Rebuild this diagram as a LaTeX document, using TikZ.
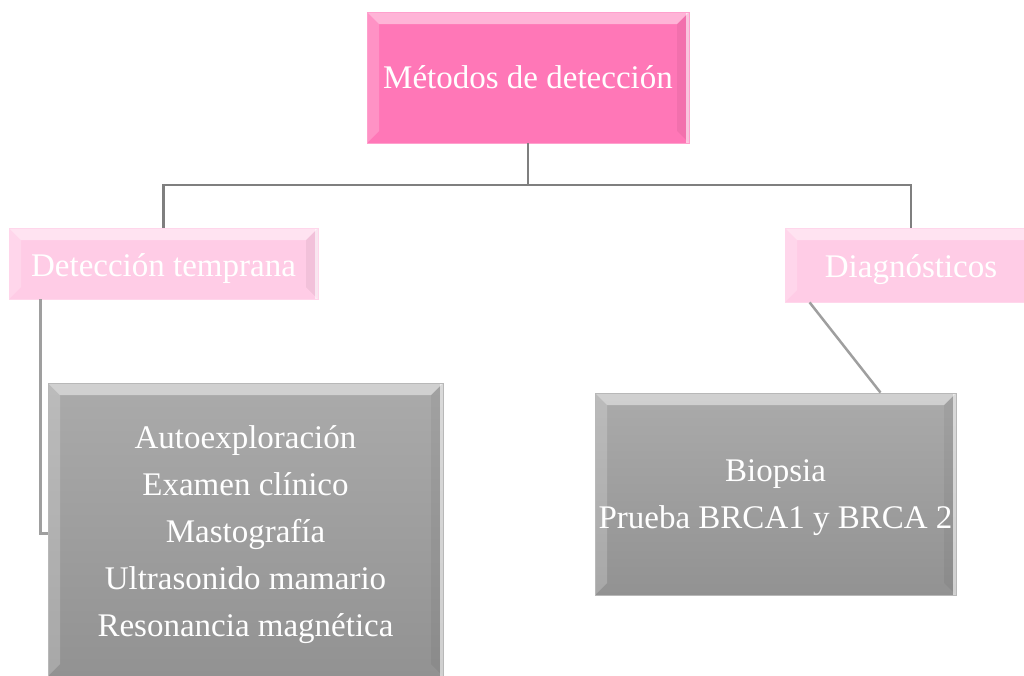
\documentclass[tikz,border=0pt]{standalone}
\usepackage{fontspec}
\setmainfont{Liberation Serif}
\usetikzlibrary{positioning}

\definecolor{rosaFuerte}{HTML}{FF77B7}
\definecolor{rosaClaro}{HTML}{FFCCE6}
\definecolor{grisCaja}{HTML}{A6A6A6}
\definecolor{grisLinea}{HTML}{7F7F7F}

\tikzset{
    bisel/.style={path picture={
        \path (path picture bounding box.north west) coordinate (nw)
              (path picture bounding box.north east) coordinate (ne)
              (path picture bounding box.south west) coordinate (sw)
              (path picture bounding box.south east) coordinate (se);
        \fill[white, opacity=0.45] (nw) -- (ne) -- ([xshift=-12pt,yshift=-12pt]ne) -- ([xshift=12pt,yshift=-12pt]nw) -- cycle;
        \fill[white, opacity=0.20] (nw) -- (sw) -- ([xshift=12pt,yshift=12pt]sw) -- ([xshift=12pt,yshift=-12pt]nw) -- cycle;
        \fill[black, opacity=0.05] (ne) -- (se) -- ([xshift=-12pt,yshift=12pt]se) -- ([xshift=-12pt,yshift=-12pt]ne) -- cycle;
        \fill[white, opacity=0.60] ([xshift=-3pt]ne) rectangle (se);
    }},
    caja/.style={rectangle, bisel, inner sep=0pt, align=center, text=white,
        font=\fontsize{33}{47}\selectfont},
    bajar/.style={execute at begin node={\rule{0pt}{#1}}},
    cajaRosa/.style={caja, fill=rosaFuerte, draw=rosaFuerte!70!white, line width=0.8pt},
    cajaClara/.style={caja, bajar=33pt, fill=rosaClaro, draw=rosaClaro!80!white, line width=0.8pt},
    cajaGris/.style={caja, top color=grisCaja!95!white, bottom color=grisCaja!88!black,
        draw=grisCaja!80!white, line width=0.8pt},
    liga/.style={draw=grisLinea, line width=2.5pt},
    ligaSuave/.style={draw=grisLinea!75!white, line width=2.5pt}
}

\begin{document}
\begin{tikzpicture}[x=1pt, y=-1pt]
    \useasboundingbox[fill=white] (0,0) rectangle (1024,675);

    % Nodo principal
    \node[cajaRosa, minimum width=322pt, minimum height=131pt] (metodos) at (528,77.5) {Métodos de detección};

    % Segundo nivel
    \node[cajaClara, minimum width=309pt, minimum height=71pt] (temprana) at (163.5,263.5) {Detección temprana};
    \node[cajaClara, minimum width=252pt, minimum height=74pt] (diagnos) at (911,265) {Diagnósticos};

    % Tercer nivel
    \node[cajaGris, minimum width=395pt, minimum height=293pt] (estudios) at (245.5,529.5)
        {\rule{0pt}{33pt}Autoexploración\\Examen clínico\\Mastografía\\Ultrasonido mamario\\Resonancia magnética};
    \node[cajaGris, minimum width=361pt, minimum height=202pt] (pruebas) at (775.5,494)
        {\rule{0pt}{30pt}Biopsia\\Prueba BRCA1 y BRCA 2};

    % Conectores
    \coordinate (ramal) at (528,185);
    \draw[liga] (metodos.south) -- (ramal);
    \draw[liga] (ramal) -| (temprana.north);
    \draw[liga] (ramal) -| (diagnos.north);
    \draw[ligaSuave] ([xshift=32pt]temprana.south west) |- ([yshift=-4pt]estudios.west);
    \draw[ligaSuave] ([xshift=25pt]diagnos.south west) -- ([xshift=105pt]pruebas.north);
\end{tikzpicture}
\end{document}
